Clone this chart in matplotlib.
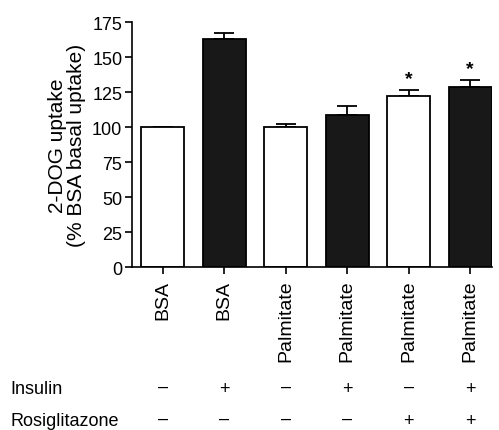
import numpy as np
import matplotlib.pyplot as plt

plt.rcParams['font.family'] = ['Liberation Sans', 'DejaVu Sans']

# data
groups = ["BSA", "BSA", "Palmitate", "Palmitate", "Palmitate", "Palmitate"]
uptake = [100, 163, 100, 109, 122, 128.5]
sem = [0, 4, 2.5, 6, 4.5, 5.5]
colors = ["white", "#181818", "white", "#181818", "white", "#181818"]
insulin = ["–", "+", "–", "+", "–", "+"]
rosiglitazone = ["–", "–", "–", "–", "+", "+"]
significant = [False, False, False, False, True, True]

fig = plt.figure(figsize=(4.99, 4.31), dpi=100)
ax = fig.add_axes([0.2645, 0.378, 0.722, 0.568])

x = np.arange(len(uptake))
ax.bar(x, uptake, width=0.7, color=colors, edgecolor="black", linewidth=1.3, zorder=2)
ax.errorbar(x, uptake, yerr=[np.zeros(len(sem)), sem], fmt="none", ecolor="black",
            elinewidth=1.3, capsize=7.5, capthick=1.3, zorder=1)

for i in range(len(uptake)):
    if significant[i]:
        ax.text(x[i], uptake[i] + sem[i] + 2, "*", ha="center", va="bottom",
                fontsize=14, fontweight="bold")

ax.set_xlim(-0.5, 5.36)
ax.set_ylim(0, 175)
ax.set_yticks(range(0, 176, 25))
ax.set_xticks(x)
ax.set_xticklabels(groups, rotation=90, fontsize=14)
ax.tick_params(axis="y", labelsize=13, length=5, width=1.2, pad=2)
ax.tick_params(axis="x", length=5, width=1.2, pad=4)
for s in ["top", "right"]:
    ax.spines[s].set_visible(False)
for s in ["left", "bottom"]:
    ax.spines[s].set_linewidth(1.2)

ax.set_ylabel("2-DOG uptake\n(% BSA basal uptake)", fontsize=15, linespacing=1.05, labelpad=4)

# treatment table under the plot (baseline positions in pixels)
row_base = [394, 426]
for label, row, yp in [("Insulin", insulin, row_base[0]), ("Rosiglitazone", rosiglitazone, row_base[1])]:
    ty = 1 - yp / 431
    fig.text(10 / 499, ty, label, ha="left", va="baseline", fontsize=13)
    for i, sym in enumerate(row):
        xd = ax.transData.transform((x[i], 0))[0]
        xf = fig.transFigure.inverted().transform((xd, 0))[0]
        # en dash sits a little low in this font, nudge it up
        dy = 2 / 431 if sym == "–" else 0
        fig.text(xf, ty + dy, sym, ha="center", va="baseline", fontsize=13)

fig.savefig("out.png", dpi=100)
